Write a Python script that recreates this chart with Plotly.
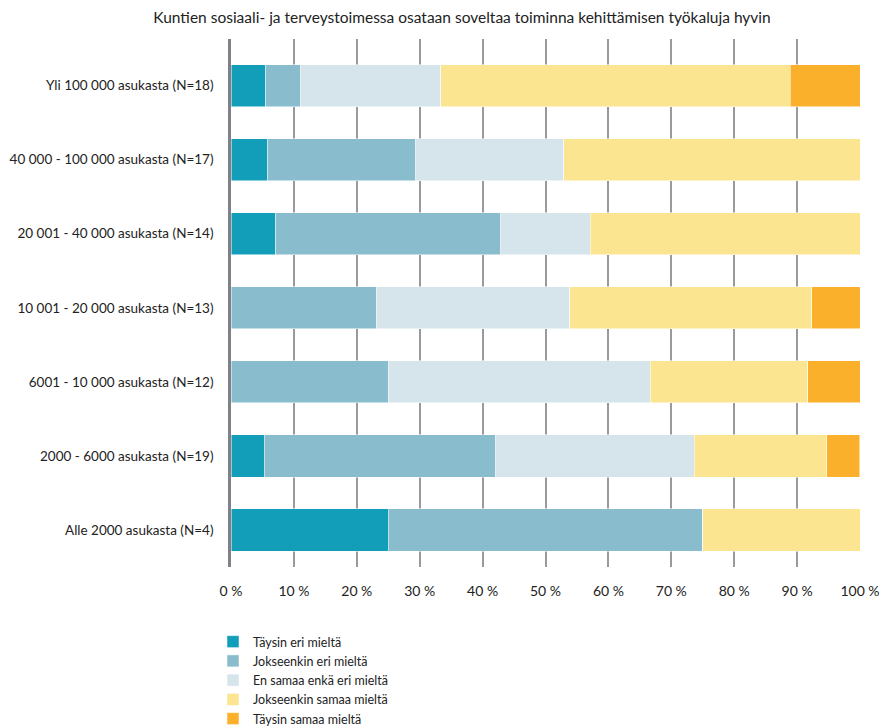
import plotly.graph_objects as go

# Municipality size groups, listed bottom-to-top
groups = [
    "Alle 2000 asukasta (N=4)",
    "2000 - 6000 asukasta (N=19)",
    "6001 - 10 000 asukasta (N=12)",
    "10 001 - 20 000 asukasta (N=13)",
    "20 001 - 40 000 asukasta (N=14)",
    "40 000 - 100 000 asukasta (N=17)",
    "Yli 100 000 asukasta (N=18)",
]

# Share of respondents (%) per answer option, same order as groups
taysin_eri = [25.0, 5.26, 0.0, 0.0, 7.14, 5.88, 5.56]
jokseenkin_eri = [50.0, 36.84, 25.0, 23.08, 35.71, 23.53, 5.56]
en_samaa_enka_eri = [0.0, 31.58, 41.67, 30.77, 14.29, 23.53, 22.22]
jokseenkin_samaa = [25.0, 21.05, 25.0, 38.46, 42.86, 47.06, 55.56]
taysin_samaa = [0.0, 5.26, 8.33, 7.69, 0.0, 0.0, 11.11]

series = [
    ("Täysin eri mieltä", taysin_eri, "#129eb8"),
    ("Jokseenkin eri mieltä", jokseenkin_eri, "#89bccc"),
    ("En samaa enkä eri mieltä", en_samaa_enka_eri, "#d6e4eb"),
    ("Jokseenkin samaa mieltä", jokseenkin_samaa, "#fce590"),
    ("Täysin samaa mieltä", taysin_samaa, "#fbb02c"),
]

font_family = "Lato, 'DejaVu Sans', sans-serif"

fig = go.Figure()
for name, vals, color in series:
    fig.add_trace(go.Bar(
        y=groups, x=vals, name=name, orientation="h",
        marker=dict(color=color, line=dict(color="white", width=0.5)),
        hoverinfo="x+name",
    ))

fig.update_layout(
    width=887, height=727,
    barmode="stack",
    bargap=0.43,
    plot_bgcolor="white",
    paper_bgcolor="white",
    font=dict(family=font_family, size=13.5, color="#222222"),
    margin=dict(l=231, r=27, t=39, b=160, autoexpand=False),
    title=dict(
        text="Kuntien sosiaali- ja terveystoimessa osataan soveltaa toiminna kehittämisen työkaluja hyvin",
        x=462 / 887, xanchor="center", y=1 - 18 / 727, yanchor="middle",
        font=dict(size=15.5, family=font_family, color="#222222"),
    ),
    xaxis=dict(
        range=[0, 100], dtick=10, ticksuffix=" %",
        showgrid=True, gridcolor="#9a9a9e", gridwidth=1.5,
        zeroline=False, showline=False,
        ticks="", ticklen=0, ticklabelstandoff=14, tickfont=dict(size=14),
    ),
    yaxis=dict(
        categoryorder="array", categoryarray=groups,
        range=[-0.5, 6.63],
        showgrid=False, zeroline=False,
        showline=True, linecolor="#808086", linewidth=2.5,
        ticks="", ticklabelstandoff=12, tickfont=dict(size=13.5),
    ),
    legend=dict(
        orientation="v", traceorder="normal",
        xref="container", x=213 / 887, xanchor="left",
        yref="container", y=1 - 627 / 727, yanchor="top",
        font=dict(size=12.5), itemwidth=30, tracegroupgap=0,
        bgcolor="rgba(0,0,0,0)",
    ),
    showlegend=True,
)

fig.write_html("out.html")
